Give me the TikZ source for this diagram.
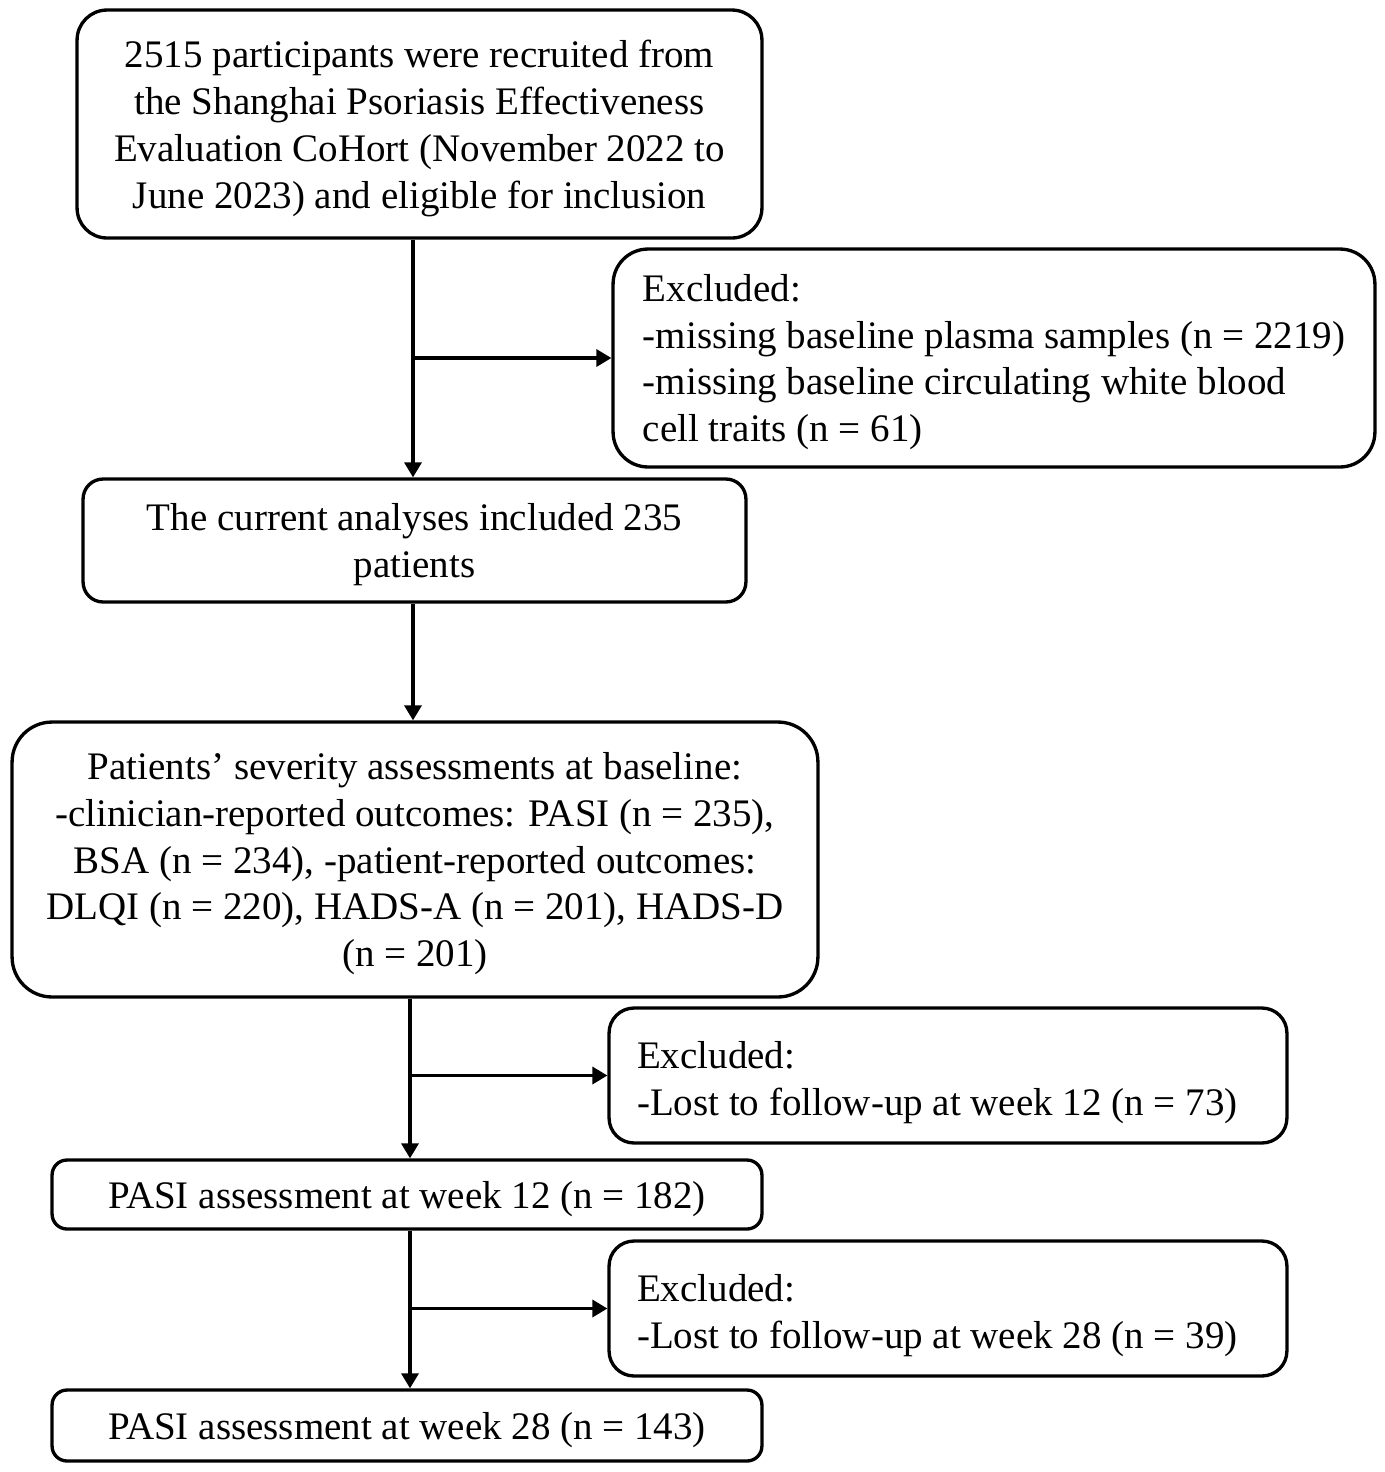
\documentclass[tikz,border=0pt]{standalone}
\usepackage{fontspec}
\setmainfont{Liberation Serif}
\usepackage{xcolor}
\definecolor{flowLine}{HTML}{000000}
\usepackage{tikz}
\usetikzlibrary{arrows.meta,positioning,calc}
\tikzset{
    flowbox/.style={
        draw=flowLine,
        fill=white,
        rectangle,
        rounded corners=0.6cm,
        align=center,
        inner sep=0pt,
        text depth=0pt,
        line width=1.9pt,
        font=\fontsize{22.2}{26.7}\selectfont
    },
    exclbox/.style={
        flowbox,
        align=flush left,
        rounded corners=0.5cm
    },
    arrow/.style={
        -{Triangle[width=0.34cm,length=0.3cm]},
        line width=1.9pt,
        color=flowLine
    }
}

\begin{document}
\begin{tikzpicture}[x=0.02cm,y=-0.02cm]
    \useasboundingbox (0,0) rectangle (1385,1472);
    \node[flowbox, minimum width=13.7cm, minimum height=4.56cm] (startbox) at (419.5,124)
        {2515 participants were recruited from\\the Shanghai Psoriasis Effectiveness\\Evaluation CoHort (November 2022 to\\June 2023) and eligible for inclusion};
    \node[exclbox, minimum width=15.24cm, minimum height=4.36cm, rounded corners=0.7cm] (exclA) at (994,358)
        {Excluded:\\-missing baseline plasma samples (n = 2219)\\-missing baseline circulating white blood\\cell traits (n = 61)};
    \node[flowbox, minimum width=13.26cm, minimum height=2.46cm, rounded corners=0.4cm] (analysed) at (414.5,540.5)
        {The current analyses included 235\\patients};
    \node[flowbox, minimum width=16.12cm, minimum height=5.5cm, rounded corners=0.8cm] (severity) at (415,859.5)
        {Patients’ severity assessments at baseline:\\-clinician-reported outcomes: PASI (n = 235),\\BSA (n = 234), -patient-reported outcomes:\\DLQI (n = 220), HADS-A (n = 201), HADS-D\\(n = 201)};
    \node[exclbox, text width=12.44cm, text depth=0.83cm, minimum height=2.7cm, inner xsep=0.56cm] (exclB) at (948,1075.5)
        {Excluded:\\-Lost to follow-up at week 12 (n = 73)};
    \node[flowbox, minimum width=14.2cm, minimum height=1.38cm, rounded corners=0.3cm] (weektwelve) at (407,1194.5)
        {PASI assessment at week 12 (n = 182)};
    \node[exclbox, text width=12.44cm, text depth=0.83cm, minimum height=2.7cm, inner xsep=0.56cm] (exclC) at (948,1308.5)
        {Excluded:\\-Lost to follow-up at week 28 (n = 39)};
    \node[flowbox, minimum width=14.2cm, minimum height=1.42cm, rounded corners=0.3cm] (weektwentyeight) at (407,1425.5)
        {PASI assessment at week 28 (n = 143)};

    % trunk lines
    \coordinate (trunkA) at (413,0);
    \coordinate (trunkB) at (410,0);
    \draw[arrow] (startbox.south -| trunkA) -- (analysed.north -| trunkA);
    \draw[arrow] (trunkA |- exclA.west) -- (exclA.west);
    \draw[arrow] (analysed.south -| trunkA) -- (severity.north -| trunkA);
    \draw[arrow] (severity.south -| trunkB) -- (weektwelve.north -| trunkB);
    \draw[arrow] (trunkB |- exclB.west) -- (exclB.west);
    \draw[arrow] (weektwelve.south -| trunkB) -- (weektwentyeight.north -| trunkB);
    \draw[arrow] (trunkB |- exclC.west) -- (exclC.west);
\end{tikzpicture}
\end{document}
